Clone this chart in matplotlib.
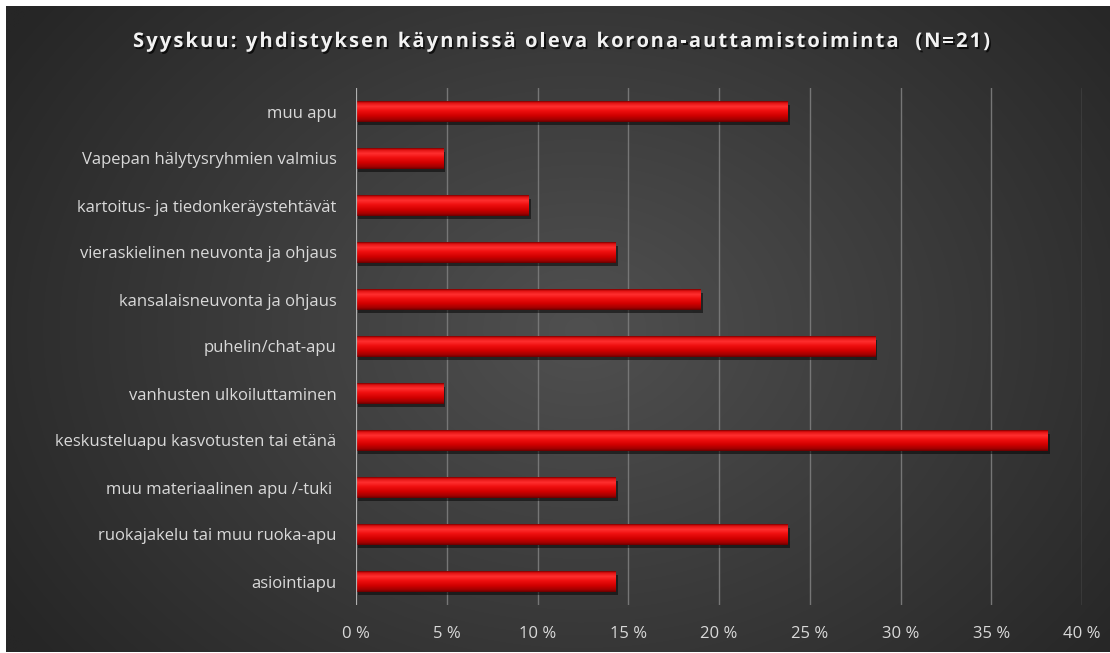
import numpy as np
import matplotlib
matplotlib.use("Agg")
import matplotlib.pyplot as plt
import matplotlib.patheffects as pe
from matplotlib.colors import LinearSegmentedColormap

# ---- data ----
categories = [
    "muu apu",
    "Vapepan hälytysryhmien valmius",
    "kartoitus- ja tiedonkeräystehtävät",
    "vieraskielinen neuvonta ja ohjaus",
    "kansalaisneuvonta ja ohjaus",
    "puhelin/chat-apu",
    "vanhusten ulkoiluttaminen",
    "keskusteluapu kasvotusten tai etänä",
    "muu materiaalinen apu /-tuki ",
    "ruokajakelu tai muu ruoka-apu",
    "asiointiapu",
]
values_pct = [23.8, 4.8, 9.5, 14.3, 19.0, 28.6, 4.8, 38.1, 14.3, 23.8, 14.3]
xticks_pct = [0, 5, 10, 15, 20, 25, 30, 35, 40]
xtick_labels = ["0 %", "5 %", "10 %", "15 %", "20 %", "25 %", "30 %", "35 %", "40 %"]
title = "Syyskuu: yhdistyksen käynnissä oleva korona-auttamistoiminta  (N=21)"

W, H = 1110, 653
fig = plt.figure(figsize=(W / 100, H / 100), dpi=100)
fig.patch.set_facecolor("white")

# ---- background radial gradient ----
bg = fig.add_axes([6 / W, 1 / H, 1 - 6 / W, 1 - 7 / H])
bg.set_axis_off()
yy, xx = np.mgrid[0:300, 0:520]
cx, cy = 0.52 * 520, 0.5 * 300
r = np.sqrt(((xx - cx) / 520) ** 2 + ((yy - cy) / 300 * 0.75) ** 2)
r = np.clip(r / 0.62, 0, 1)
c_in = np.array([0x50, 0x50, 0x50]) / 255
c_out = np.array([0x26, 0x26, 0x26]) / 255
img = c_in[None, None, :] * (1 - r[..., None]) + c_out[None, None, :] * r[..., None]
bg.imshow(img, aspect="auto", extent=[0, 1, 0, 1], interpolation="bilinear")
bg.set_xlim(0, 1)
bg.set_ylim(0, 1)

# ---- main axes ----
ax = fig.add_axes([356 / W, 1 - 605 / H, (1082 - 356) / W, (605 - 88) / H])
ax.set_facecolor("none")
n = len(categories)
ypos = np.arange(n)
bars = ax.barh(ypos, values_pct, height=0.43, color="#d00000", zorder=3,
               edgecolor="none")

grad_cmap = LinearSegmentedColormap.from_list(
    "redbar",
    [(0.0, "#7a0000"), (0.08, "#e01010"), (0.25, "#ff3030"), (0.45, "#f01010"),
     (0.7, "#d00000"), (0.9, "#a00000"), (1.0, "#6a0000")])
grad = np.linspace(0, 1, 64).reshape(-1, 1)
for b in bars:
    b.set_path_effects([pe.SimplePatchShadow(offset=(1.5, -2.5), shadow_rgbFace="black", alpha=0.5),
                        pe.Normal()])
    x0, y0, w, h = b.get_x(), b.get_y(), b.get_width(), b.get_height()
    im = ax.imshow(grad, cmap=grad_cmap, aspect="auto",
                   extent=[x0, x0 + w, y0 + h, y0], zorder=4,
                   interpolation="bilinear")
    im.set_clip_path(b)

ax.set_xlim(0, 40)
ax.set_ylim(n - 0.5, -0.5)
ax.set_xticks(xticks_pct)
ax.set_xticklabels(xtick_labels)
ax.set_yticks(ypos)
ax.set_yticklabels(categories)

for x in xticks_pct[1:]:
    ax.axvline(x, color="#767676", lw=1.0, zorder=1)
ax.axvline(0, color="#b0b0b0", lw=1.6, zorder=5)

for s in ax.spines.values():
    s.set_visible(False)
ax.tick_params(axis="both", length=0, colors="#d9d9d9")
ax.tick_params(axis="y", pad=14)
ax.tick_params(axis="x", pad=15)
for lab in ax.get_yticklabels() + ax.get_xticklabels():
    lab.set_fontfamily("Open Sans")
    lab.set_fontsize(12)
    lab.set_color("#d9d9d9")

# ---- title with letter spacing ----
tkw = dict(fontsize=14.5, fontweight="bold", family="Open Sans")
renderer = fig.canvas.get_renderer()


def txt_width(s):
    t = fig.text(0, 0, s, **tkw)
    wpx = t.get_window_extent(renderer).width
    t.remove()
    return wpx


sentinel_w = txt_width("H")
prefix = [0.0] + [txt_width(title[:i] + "H") - sentinel_w for i in range(1, len(title))]
natural = txt_width(title)
x_left, x_right = 133, 990
extra = (x_right - x_left - natural) / (len(title) - 1)
baseline_y = 1 - 47 / H
shadow = [pe.withSimplePatchShadow(offset=(1.2, -1.5), shadow_rgbFace="black", alpha=0.7)]
for i, ch in enumerate(title):
    if ch == " ":
        continue
    xpx = x_left + prefix[i] + i * extra
    fig.text(xpx / W, baseline_y, ch, ha="left", va="baseline", color="#f2f2f2",
             path_effects=shadow, **tkw)

fig.savefig("out.png", dpi=100)
